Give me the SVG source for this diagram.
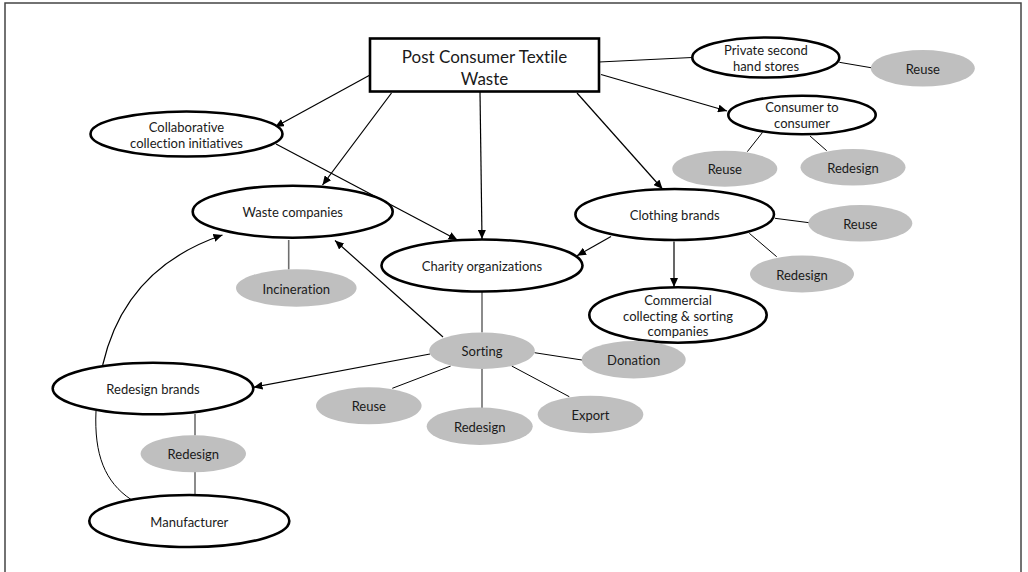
<svg xmlns="http://www.w3.org/2000/svg" width="1028" height="572" viewBox="0 0 1028 572">
<style>
.frame{fill:none;stroke:#444;stroke-width:1.5}
.node{fill:#fff;stroke:#000;stroke-width:2.6}
.leaf{fill:#bfbfbf;stroke:none}
.t{font-family:Lato,"Liberation Sans",sans-serif;font-size:13px;fill:#1a1a1a;text-anchor:middle;dominant-baseline:central;font-variant-ligatures:none}
.tl{font-size:17px}
.arr{fill:none;stroke:#000;stroke-width:1.2;marker-end:url(#ah)}
.ln{fill:none;stroke:#000;stroke-width:1}
.gl{fill:none;stroke:#6e6e6e;stroke-width:1.6}
</style>
<defs>
<marker id="ah" markerUnits="userSpaceOnUse" markerWidth="10" markerHeight="8" refX="9" refY="4" orient="auto">
<path d="M0,0 L9,4 L0,8 z" fill="#000"/>
</marker>
</defs>
<rect class="frame" x="5" y="3" width="1016" height="580"/>
<g id="connectors">
<line class="arr" x1="370" y1="75" x2="275" y2="127"/>
<line class="arr" x1="391.5" y1="93" x2="322.5" y2="185"/>
<line class="arr" x1="480" y1="92" x2="482" y2="239"/>
<line class="arr" x1="276" y1="144" x2="457.5" y2="240"/>
<line class="ln" x1="599" y1="62" x2="692" y2="57.5"/>
<line class="arr" x1="601" y1="74.5" x2="727" y2="111"/>
<line class="arr" x1="577" y1="93" x2="662.5" y2="189"/>
<line class="arr" x1="611" y1="236.5" x2="577" y2="255.7"/>
<line class="arr" x1="674" y1="241.5" x2="674" y2="287"/>
<line class="arr" x1="443" y1="337" x2="335" y2="240.5"/>
<line class="arr" x1="430" y1="354" x2="253.5" y2="387.3"/>
<path class="arr" d="M102.7,365 Q125,268 222.5,235"/>
<path class="ln" d="M96,411 C94,455 105,482 131,499.5"/>
<line class="gl" x1="288.7" y1="240" x2="288.7" y2="269.5"/>
<line class="gl" x1="482" y1="291.5" x2="482" y2="332.5"/>
<line class="gl" x1="482" y1="369" x2="482" y2="408"/>
<line class="ln" x1="450.7" y1="366" x2="392.3" y2="388.3"/>
<line class="ln" x1="534.5" y1="352.7" x2="582" y2="360"/>
<line class="ln" x1="511.7" y1="366" x2="569.3" y2="396.7"/>
<line class="gl" x1="195" y1="414" x2="195" y2="435.5"/>
<line class="gl" x1="195" y1="472" x2="195" y2="495"/>
<line class="ln" x1="839.3" y1="62.3" x2="871" y2="67.7"/>
<line class="ln" x1="762.3" y1="132.7" x2="747.3" y2="151.7"/>
<line class="ln" x1="810" y1="136" x2="826.7" y2="150.7"/>
<line class="ln" x1="775" y1="218.3" x2="809" y2="222.7"/>
<line class="ln" x1="749.3" y1="233.3" x2="776.7" y2="256.7"/>
</g>
<g id="n-post">
<rect class="node" x="370" y="38.5" width="229" height="53"/>
<text class="t tl" x="484.5" y="56">Post Consumer Textile</text>
<text class="t tl" x="484.5" y="78">Waste</text>
</g>
<g id="n-collab">
<ellipse class="node" cx="186.5" cy="134" rx="96" ry="22.5"/>
<text class="t" x="186.5" y="127">Collaborative</text>
<text class="t" x="186.5" y="143">collection initiatives</text>
</g>
<g id="n-waste">
<ellipse class="node" cx="292.7" cy="211.7" rx="100" ry="26"/>
<text class="t" x="292.7" y="212">Waste companies</text>
</g>
<g id="n-charity">
<ellipse class="node" cx="482" cy="265.5" rx="100.5" ry="26"/>
<text class="t" x="482" y="266">Charity organizations</text>
</g>
<g id="n-private">
<ellipse class="node" cx="765.8" cy="57.5" rx="73.5" ry="20"/>
<text class="t" x="766" y="50">Private second</text>
<text class="t" x="766" y="66">hand stores</text>
</g>
<g id="n-c2c">
<ellipse class="node" cx="802" cy="115" rx="73.7" ry="19.3"/>
<text class="t" x="802" y="107">Consumer to</text>
<text class="t" x="802" y="123">consumer</text>
</g>
<g id="n-clothing">
<ellipse class="node" cx="674.7" cy="214.5" rx="99.3" ry="25.5"/>
<text class="t" x="674.7" y="215">Clothing brands</text>
</g>
<g id="n-commercial">
<ellipse class="node" cx="678" cy="315" rx="88.7" ry="27.7"/>
<text class="t" x="678" y="300">Commercial</text>
<text class="t" x="678" y="316">collecting &amp; sorting</text>
<text class="t" x="678" y="331">companies</text>
</g>
<g id="n-redesignbrands">
<ellipse class="node" cx="153" cy="388.5" rx="100.3" ry="25.8"/>
<text class="t" x="153" y="389">Redesign brands</text>
</g>
<g id="n-manufacturer">
<ellipse class="node" cx="189.3" cy="521" rx="100" ry="26"/>
<text class="t" x="189.3" y="522">Manufacturer</text>
</g>
<g id="n-reuse1">
<ellipse class="leaf" cx="922.8" cy="68.3" rx="52" ry="18.3"/>
<text class="t" x="922.8" y="69">Reuse</text>
</g>
<g id="n-reuse2">
<ellipse class="leaf" cx="724.8" cy="168.7" rx="52.5" ry="18"/>
<text class="t" x="724.8" y="169">Reuse</text>
</g>
<g id="n-redesign2">
<ellipse class="leaf" cx="853" cy="167.3" rx="52.5" ry="18.3"/>
<text class="t" x="853" y="168">Redesign</text>
</g>
<g id="n-reuse3">
<ellipse class="leaf" cx="860.3" cy="223.3" rx="52" ry="18.3"/>
<text class="t" x="860.3" y="224">Reuse</text>
</g>
<g id="n-redesign3">
<ellipse class="leaf" cx="802" cy="274" rx="52" ry="18.5"/>
<text class="t" x="802" y="275">Redesign</text>
</g>
<g id="n-incineration">
<ellipse class="leaf" cx="296.3" cy="288" rx="60.3" ry="18.7"/>
<text class="t" x="296.3" y="289">Incineration</text>
</g>
<g id="n-sorting">
<ellipse class="leaf" cx="482" cy="350.7" rx="52.8" ry="18.3"/>
<text class="t" x="482" y="351">Sorting</text>
</g>
<g id="n-donation">
<ellipse class="leaf" cx="633.7" cy="359.7" rx="52" ry="18.7"/>
<text class="t" x="633.7" y="360">Donation</text>
</g>
<g id="n-export">
<ellipse class="leaf" cx="590.5" cy="414.5" rx="52.8" ry="18.8"/>
<text class="t" x="590.5" y="415">Export</text>
</g>
<g id="n-reuse4">
<ellipse class="leaf" cx="368.8" cy="405.8" rx="52.8" ry="18.5"/>
<text class="t" x="368.8" y="406">Reuse</text>
</g>
<g id="n-redesign4">
<ellipse class="leaf" cx="479.7" cy="426.3" rx="53" ry="18.7"/>
<text class="t" x="479.7" y="427">Redesign</text>
</g>
<g id="n-redesign5">
<ellipse class="leaf" cx="193.3" cy="453.8" rx="52.7" ry="18.5"/>
<text class="t" x="193.3" y="454">Redesign</text>
</g>
</svg>
